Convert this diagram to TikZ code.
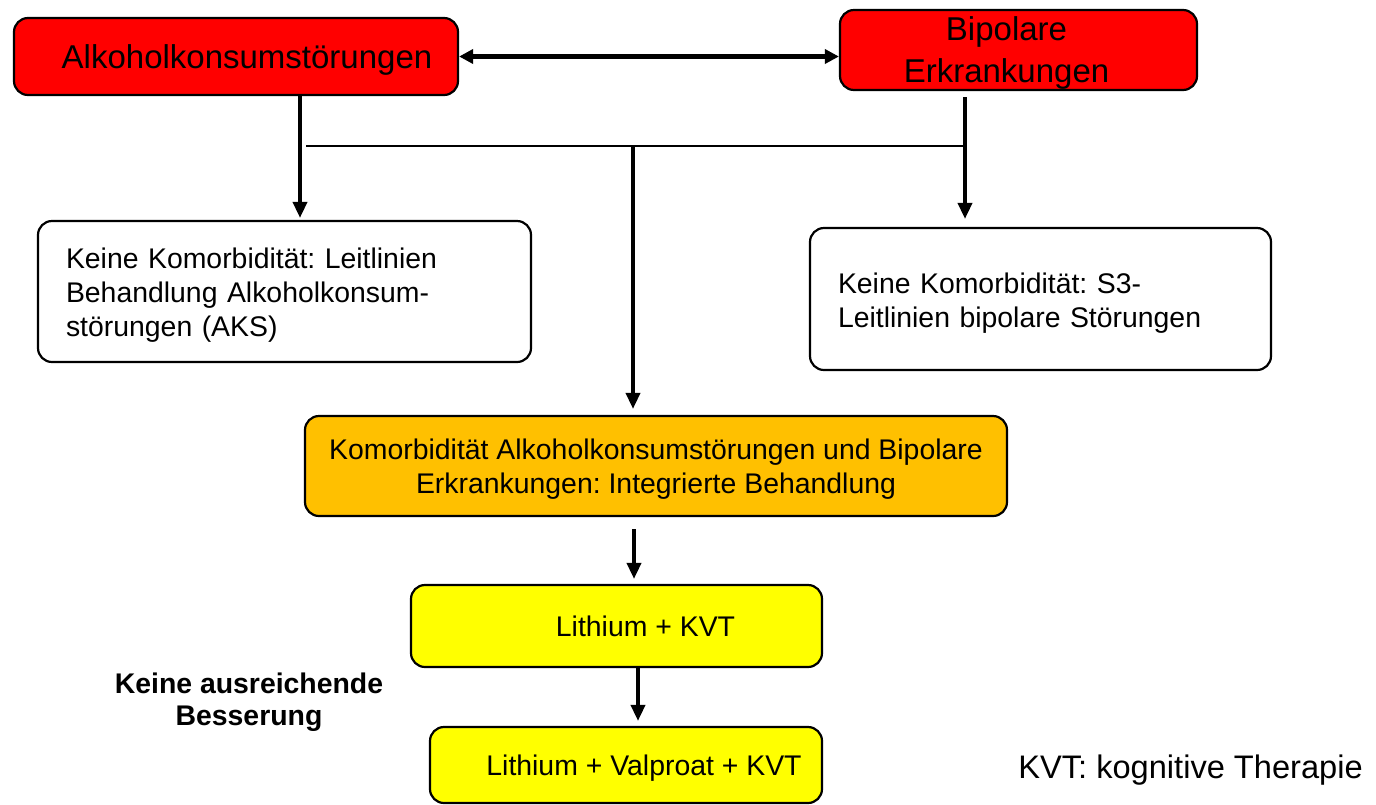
\documentclass[tikz,border=0pt]{standalone}
\usepackage{fontspec}
\setmainfont{Liberation Sans}
\usetikzlibrary{arrows.meta}
\definecolor{boxred}{HTML}{FF0000}
\definecolor{boxorange}{HTML}{FFC000}
\definecolor{boxyellow}{HTML}{FFFF00}
\frenchspacing
\begin{document}
\begin{tikzpicture}[x=0.5pt,y=-0.5pt,
  box/.style={draw=black, line width=1.1pt, rounded corners=7pt, inner sep=0pt, align=center},
  bodyfont/.style={font=\frenchspacing\fontsize{14.2pt}{17pt}\selectfont},
  redbox/.style={box, fill=boxred, text depth=0pt, font=\fontsize{16.5pt}{21pt}\selectfont},
  whitebox/.style={box, fill=white, bodyfont, align=left, inner xsep=14pt},
  orangebox/.style={box, fill=boxorange, text depth=0pt, bodyfont},
  yellowbox/.style={box, fill=boxyellow, text depth=0pt, bodyfont},
  arr/.style={line width=1.8pt, -{Triangle[length=8pt,width=7pt]}},
  biarr/.style={line width=2.2pt, {Triangle[length=7pt,width=7pt]}-{Triangle[length=7pt,width=7pt]}}
]
\useasboundingbox (0,0) rectangle (1376,804);

% diagnoses
\node[redbox, minimum width=222pt, minimum height=38.5pt] (A) at (236,56.5)
  {\hspace*{11pt}Alkoholkonsumstörungen};
\node[redbox, minimum width=178.5pt, minimum height=40pt] (B) at (1018.5,50)
  {Bipolare\hspace*{12pt}\\Erkrankungen\hspace*{12pt}};

% single-diagnosis guideline boxes (strut lowers the text block a little)
\node[whitebox, text width=218.5pt, minimum height=70.5pt] (C) at (284.5,291.5)
  {\rule{0pt}{14.4pt}Keine Komorbidität: Leitlinien\\Behandlung Alkoholkonsum-\\störungen (AKS)};
\node[whitebox, text width=202.5pt, minimum height=71pt] (D) at (1040.5,299)
  {\rule{0pt}{14.4pt}Keine Komorbidität: S3-\\Leitlinien bipolare Störungen};

% comorbidity and treatment steps
\node[orangebox, minimum width=351pt, minimum height=50pt] (E) at (656,466)
  {Komorbidität Alkoholkonsumstörungen und Bipolare\\Erkrankungen: Integrierte Behandlung};
\node[yellowbox, minimum width=205.5pt, minimum height=41pt] (F) at (616.5,626)
  {\hspace*{29pt}Lithium + KVT};
\node[yellowbox, minimum width=196pt, minimum height=38pt] (G) at (626,765)
  {\hspace*{18pt}Lithium + Valproat + KVT};

% side labels
\node[font=\bfseries\fontsize{14.2pt}{16pt}\selectfont, align=center] (L) at (249,702)
  {Keine ausreichende\\Besserung};
\node[font=\fontsize{16.3pt}{19pt}\selectfont, anchor=west, inner sep=0pt] (K) at (1018,770)
  {KVT: kognitive Therapie};

% connector columns
\coordinate (xa) at (300,0);
\coordinate (xb) at (965,0);
\coordinate (xe) at (634,0);
\coordinate (xf) at (638,0);
\coordinate (hl) at (306,146);
\coordinate (hr) at (965,146);
\coordinate (hm) at (633,146);

% connectors
\draw[biarr] (A.east) -- (B.west |- A.east);
\draw[arr, shorten >=1pt] (A.south -| xa) -- (C.north -| xa);
\draw[arr, shorten <=3pt, shorten >=4pt] (B.south -| xb) -- (D.north -| xb);
\draw[line width=1pt] (hl) -- (hr);
\draw[arr, shorten >=3pt] (hm) -- (E.north -| hm);
\draw[arr, shorten <=6pt, shorten >=2.5pt] (E.south -| xe) -- (F.north -| xe);
\draw[arr, shorten >=2.5pt] (F.south -| xf) -- (G.north -| xf);
\end{tikzpicture}
\end{document}
